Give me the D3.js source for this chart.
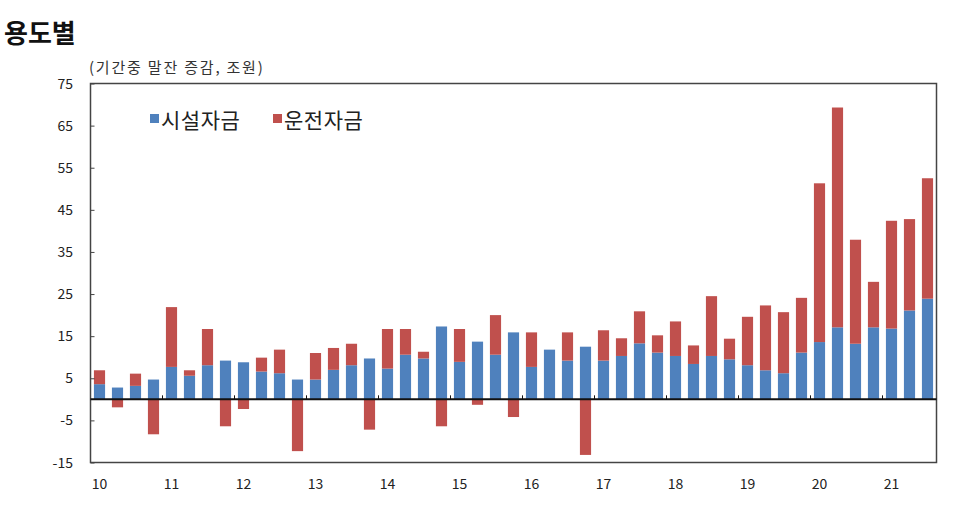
<!DOCTYPE html>
<html>
<head>
<meta charset="utf-8">
<script src="https://cdn.jsdelivr.net/npm/d3@7"></script>
<style>
  body { margin: 0; background: #fff; }
  svg text { font-family: "Noto Sans CJK KR", "Noto Sans", sans-serif; }
</style>
</head>
<body>
<div class="chart"></div>
<script>
// quarters 2010Q1 ~ 2021Q3
const years = ['10','11','12','13','14','15','16','17','18','19','20','21'];
const quarters = [];
years.forEach(y => [1,2,3,4].forEach(q => quarters.push(y + 'Q' + q)));
quarters.splice(47); // data stops at 21Q3

// 시설자금 (facility funds)
const facility = [3.6, 2.8, 3.2, 4.7, 7.7, 5.6, 8.1, 9.2, 8.8, 6.6, 6.2, 4.7,
  4.7, 7.0, 8.1, 9.7, 7.3, 10.6, 9.7, 17.3, 8.9, 13.7, 10.6, 15.9,
  7.7, 11.8, 9.2, 12.5, 9.2, 10.3, 13.3, 11.1, 10.3, 8.4, 10.3, 9.5,
  8.1, 6.9, 6.2, 11.1, 13.6, 17.1, 13.2, 17.1, 16.8, 21.1, 23.9];
// 운전자금 (operating funds)
const operating = [3.3, -1.9, 2.9, -8.3, 14.2, 1.3, 8.6, -6.4, -2.3, 3.3, 5.6, -12.3,
  6.3, 5.2, 5.1, -7.2, 9.4, 6.1, 1.6, -6.4, 7.8, -1.3, 9.4, -4.2,
  8.2, 0, 6.7, -13.2, 7.2, 4.2, 7.6, 4.1, 8.2, 4.4, 14.2, 4.9,
  11.5, 15.4, 14.5, 13.0, 37.7, 52.2, 24.7, 10.8, 25.6, 21.7, 28.6];

const yTicks = [75, 65, 55, 45, 35, 25, 15, 5, -5, -15];
const seriesNames = ['시설자금', '운전자금'];
const colors = ['#4f81bd', '#c0504d'];

const width = 976, height = 530;
const m = {left: 90.5, right: 936.5, top: 83.5, bottom: 462.5};

const svg = d3.select('.chart').append('svg')
  .attr('width', width).attr('height', height);

const x = d3.scaleBand().domain(quarters).range([m.left, m.right]).paddingInner(0.38).paddingOuter(0.19);
const y = d3.scaleLinear().domain([-15, 75]).range([m.bottom, m.top]);

// title
svg.append('text').attr('x', 4).attr('y', 43)
  .attr('font-size', 26).attr('font-weight', 'bold').attr('fill', '#111')
  .text('용도별');
svg.append('text').attr('x', 89).attr('y', 73)
  .attr('font-size', 15).attr('letter-spacing', 1.8).attr('fill', '#333')
  .text('(기간중 말잔  증감, 조원)');

// bars
const g = svg.append('g');
quarters.forEach((q, i) => {
  const f = facility[i], o = operating[i];
  g.append('rect')
    .attr('x', x(q)).attr('width', x.bandwidth())
    .attr('y', y(f)).attr('height', y(0) - y(f))
    .attr('fill', colors[0]);
  if (o > 0) {
    g.append('rect')
      .attr('x', x(q)).attr('width', x.bandwidth())
      .attr('y', y(f + o)).attr('height', y(f) - y(f + o))
      .attr('fill', colors[1]);
  } else if (o < 0) {
    g.append('rect')
      .attr('x', x(q)).attr('width', x.bandwidth())
      .attr('y', y(0)).attr('height', y(o) - y(0))
      .attr('fill', colors[1]);
  }
});

// frame
svg.append('rect')
  .attr('x', m.left).attr('y', m.top)
  .attr('width', m.right - m.left).attr('height', m.bottom - m.top)
  .attr('fill', 'none').attr('stroke', '#444').attr('stroke-width', 1.5);

// y axis
const yAxis = svg.append('g').attr('transform', `translate(${m.left},0)`)
  .call(d3.axisRight(y).tickValues(yTicks).tickSize(4).tickFormat(''));
yAxis.select('.domain').remove();
yAxis.selectAll('line').attr('stroke', '#444');
svg.selectAll('.ylab').data(yTicks).join('text')
  .attr('class', 'ylab')
  .attr('x', 73).attr('y', d => y(d) + 5)
  .attr('text-anchor', 'end').attr('font-size', 14).attr('fill', '#222')
  .text(d => d);

// zero line with year ticks
svg.append('line')
  .attr('x1', m.left).attr('x2', m.right)
  .attr('y1', y(0)).attr('y2', y(0))
  .attr('stroke', '#111').attr('stroke-width', 2);
const step = x.step();
svg.selectAll('.ytick').data(years.slice(1)).join('line')
  .attr('class', 'ytick')
  .attr('x1', d => x(d + 'Q1') - (step - x.bandwidth()) / 2)
  .attr('x2', d => x(d + 'Q1') - (step - x.bandwidth()) / 2)
  .attr('y1', y(0)).attr('y2', y(0) - 4)
  .attr('stroke', '#111');

// x labels
svg.selectAll('.xlab').data(years).join('text')
  .attr('class', 'xlab')
  .attr('x', d => x(d + 'Q1') + x.bandwidth() / 2)
  .attr('y', 489)
  .attr('text-anchor', 'middle').attr('font-size', 14).attr('fill', '#222')
  .text(d => d);

// legend
const legend = svg.append('g').attr('transform', 'translate(150,128)');
const lx = [0, 123];
seriesNames.forEach((n, i) => {
  legend.append('rect').attr('x', lx[i]).attr('y', -14)
    .attr('width', 9).attr('height', 9).attr('fill', colors[i]);
  legend.append('text').attr('x', lx[i] + 11).attr('y', 0)
    .attr('font-size', 21).attr('letter-spacing', 0.5).attr('fill', '#222')
    .text(n);
});
</script>
</body>
</html>
